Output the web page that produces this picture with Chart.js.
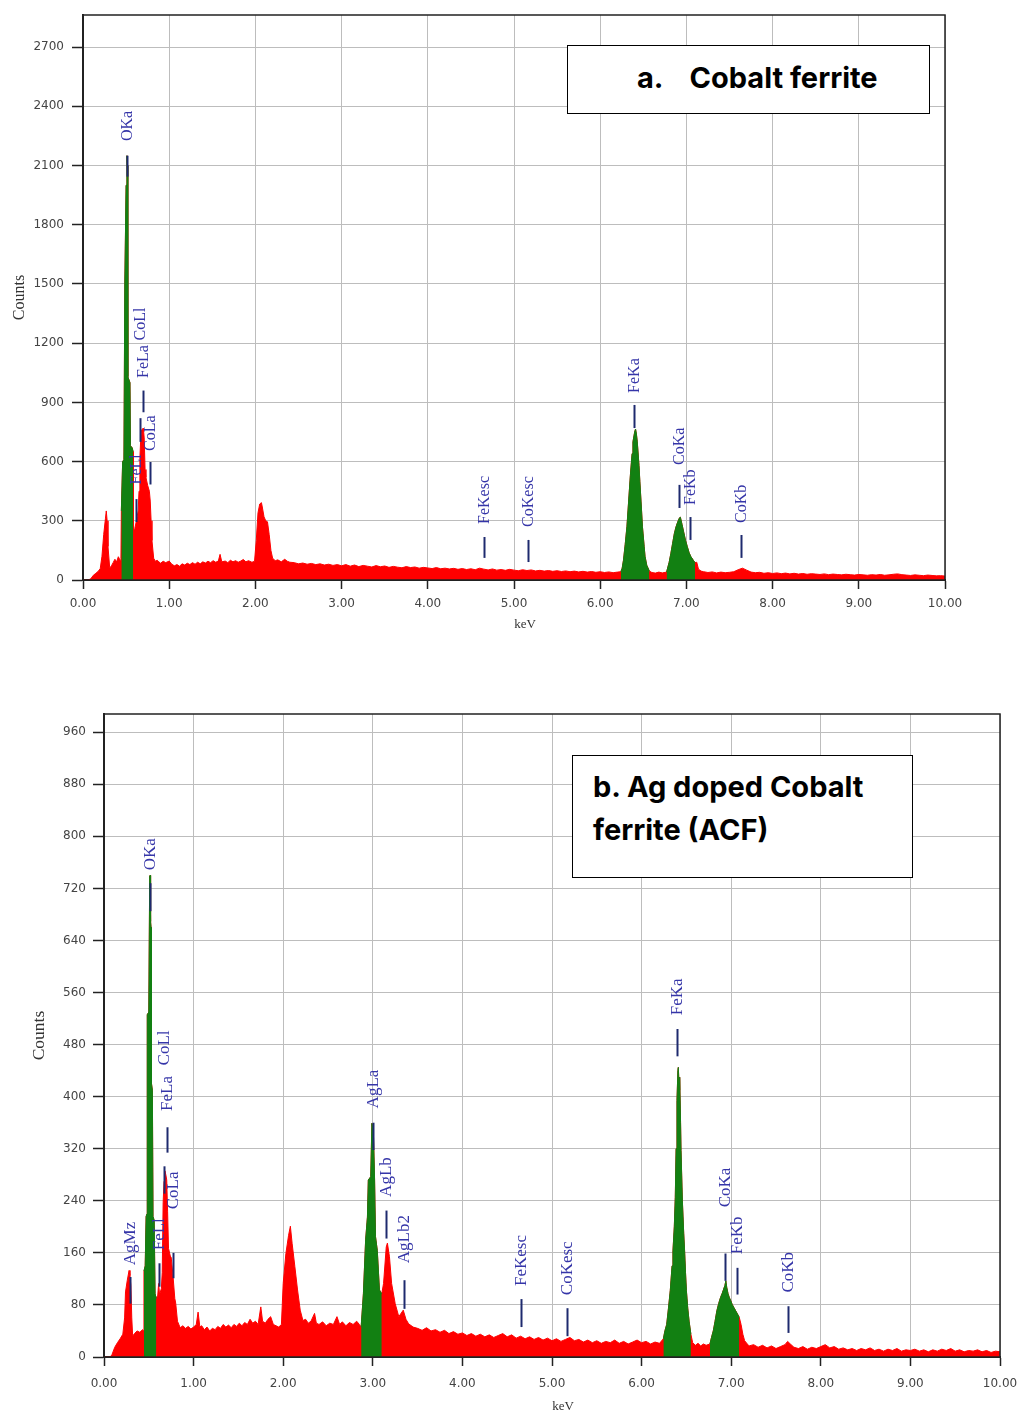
<!DOCTYPE html>
<html><head><meta charset="utf-8">
<script src="https://cdn.jsdelivr.net/npm/chart.js@4.4.1/dist/chart.umd.min.js"></script>
<style>
html,body{margin:0;padding:0;background:#fff;}
body{width:1021px;height:1416px;position:relative;overflow:hidden;}
.panel{position:absolute;left:0;}
#pa{top:0;width:1021px;height:640px;}
#pb{top:690px;width:1021px;height:726px;}
.tbox{position:absolute;background:#fff;border:1px solid #000;font-family:Inter,'Open Sans',sans-serif;font-weight:700;color:#000;box-sizing:border-box;white-space:nowrap;}
#ta{left:567px;top:45px;width:363px;height:69px;font-size:29px;line-height:64px;padding-left:69px;}
#tb{left:572px;top:755px;width:341px;height:123px;font-size:29px;line-height:43px;padding:9px 0 0 20px;}
</style></head>
<body>
<div class="panel" id="pa"><canvas id="ca" width="1021" height="640"></canvas></div>
<div class="panel" id="pb"><canvas id="cb" width="1021" height="726"></canvas></div>
<div class="tbox" id="ta"><span>a.</span><span style="margin-left:26px">Cobalt ferrite</span></div>
<div class="tbox" id="tb">b. Ag doped Cobalt<br>ferrite (ACF)</div>
<script>
// ---------- DATA ----------
const xTicks = [0,1,2,3,4,5,6,7,8,9,10];
const yTicksA = [0,300,600,900,1200,1500,1800,2100,2400,2700];
const yTicksB = [0,80,160,240,320,400,480,560,640,720,800,880,960];
const yMaxA = 2863;
const yMaxB = 988;

// [keV, counts] – Cobalt ferrite
const spectrumA = [
[0,0],[0.06,0],[0.09,6],[0.12,24],[0.15,34],[0.18,46],[0.20,58],[0.22,120],[0.24,230],[0.26,310],[0.27,350],[0.28,300],[0.29,170],[0.31,60],[0.33,72],[0.35,88],[0.37,105],[0.39,92],[0.41,118],[0.43,100],[0.44,110],
[0.445,350],[0.46,600],[0.475,610],[0.485,1500],[0.50,2000],[0.51,2150],[0.515,2100],[0.52,1030],[0.545,1000],[0.55,680],[0.57,670],[0.582,650],
[0.586,250],[0.60,260],[0.62,300],[0.64,350],[0.65,450],[0.66,620],[0.67,720],[0.68,760],[0.70,770],[0.71,720],[0.72,560],[0.73,520],[0.75,480],[0.77,450],[0.78,400],[0.79,300],[0.80,200],[0.82,110],[0.84,95],[0.86,100],
[0.88,92],[0.90,85],[0.93,95],[0.96,88],[1.00,96],[1.03,80],[1.06,72],[1.09,78],[1.12,70],[1.15,82],[1.18,76],[1.21,85],[1.24,78],[1.27,88],[1.30,80],[1.33,90],[1.36,82],[1.39,92],[1.42,86],[1.45,95],[1.48,88],[1.51,98],[1.54,90],[1.57,96],[1.59,130],[1.61,92],[1.65,96],[1.68,88],[1.71,100],[1.74,92],[1.77,98],[1.80,90],[1.83,96],[1.86,104],[1.89,92],[1.92,98],[1.96,90],[1.99,95],
[2.01,200],[2.03,340],[2.05,385],[2.07,392],[2.08,370],[2.10,320],[2.12,300],[2.14,295],[2.16,230],[2.18,150],[2.20,110],[2.23,98],[2.26,102],[2.30,92],[2.34,105],[2.37,95],[2.40,90],[2.45,88],[2.50,82],[2.55,86],[2.60,80],[2.65,84],[2.70,78],[2.75,82],[2.80,76],[2.85,80],[2.90,74],[2.95,78],
[3.00,72],[3.05,78],[3.10,70],[3.15,76],[3.20,68],[3.25,74],[3.30,70],[3.35,66],[3.40,73],[3.45,67],[3.50,71],[3.55,64],[3.60,69],[3.65,65],[3.70,62],[3.75,68],[3.80,63],[3.85,66],[3.90,60],[3.95,64],
[4.00,61],[4.05,58],[4.10,63],[4.15,57],[4.20,60],[4.25,56],[4.30,59],[4.35,54],[4.40,58],[4.45,53],[4.50,57],[4.55,52],[4.60,60],[4.65,55],[4.70,51],[4.75,56],[4.80,50],[4.85,53],[4.90,49],[4.95,54],
[5.00,50],[5.05,47],[5.10,52],[5.15,48],[5.20,51],[5.25,46],[5.30,49],[5.35,45],[5.40,48],[5.45,44],[5.50,47],[5.55,43],[5.60,46],[5.65,42],[5.70,45],[5.75,41],[5.80,44],[5.85,40],[5.90,43],[5.95,39],
[6.00,42],[6.05,38],[6.10,41],[6.15,37],[6.20,40],
[6.24,42],[6.255,60],[6.27,100],[6.29,180],[6.31,270],[6.33,400],[6.35,530],[6.37,640],[6.38,700],[6.40,750],[6.41,765],[6.42,740],[6.43,700],[6.45,580],[6.46,500],[6.48,350],[6.49,270],[6.51,170],[6.52,120],[6.54,75],[6.57,45],
[6.60,38],[6.64,35],[6.68,40],[6.72,36],
[6.77,40],[6.80,90],[6.82,135],[6.84,185],[6.86,235],[6.88,270],[6.90,295],[6.92,315],[6.93,318],[6.95,280],[6.97,240],[6.99,200],[7.01,170],[7.03,140],[7.05,120],[7.08,100],[7.10,88],
[7.12,90],[7.14,55],[7.17,45],[7.20,42],[7.25,38],[7.30,41],[7.35,36],[7.40,40],[7.45,37],[7.50,39],[7.55,42],[7.60,52],[7.65,60],[7.70,50],[7.75,40],[7.80,37],[7.85,39],[7.90,34],[7.95,37],
[8.00,33],[8.05,36],[8.10,32],[8.15,35],[8.20,31],[8.25,34],[8.30,30],[8.35,33],[8.40,29],[8.45,32],[8.50,30],[8.55,28],[8.60,31],[8.65,27],[8.70,30],[8.75,28],[8.80,26],[8.85,29],[8.90,27],[8.95,25],
[9.00,28],[9.05,26],[9.10,24],[9.15,27],[9.20,25],[9.25,28],[9.30,24],[9.35,26],[9.40,29],[9.45,31],[9.50,27],[9.55,25],[9.60,23],[9.65,26],[9.70,24],[9.75,22],[9.80,25],[9.85,23],[9.90,21],[9.95,22],[10.00,20]
];
// keV windows of the identified (green) peaks
const peakWindowsA = [[0.445,0.582],[6.24,6.57],[6.77,7.10]];

// [keV, counts] – Ag doped cobalt ferrite
const spectrumB = [
[0,0],[0.07,0],[0.09,4],[0.12,15],[0.15,22],[0.18,28],[0.21,35],[0.23,60],[0.24,100],[0.26,118],[0.28,133],[0.29,125],[0.30,110],[0.31,60],[0.32,32],[0.34,36],[0.37,40],[0.40,38],[0.43,42],[0.445,40],
[0.446,132],[0.46,140],[0.47,216],[0.48,220],[0.483,526],[0.50,530],[0.51,739],[0.515,740],[0.52,669],[0.525,660],[0.53,420],[0.54,410],[0.547,216],[0.56,210],[0.57,97],[0.584,90],
[0.59,90],[0.60,95],[0.61,113],[0.62,96],[0.64,105],[0.65,130],[0.66,237],[0.67,270],[0.68,286],[0.69,280],[0.70,272],[0.71,223],[0.72,167],[0.74,155],[0.75,153],[0.77,125],[0.79,90],[0.80,83],[0.82,55],[0.85,45],
[0.88,48],[0.91,44],[0.94,47],[0.97,43],[1.00,46],[1.03,50],[1.05,69],[1.07,46],[1.09,48],[1.12,42],[1.15,46],[1.18,40],[1.21,44],[1.24,42],[1.27,47],[1.30,44],[1.33,50],[1.36,46],[1.39,49],[1.42,45],[1.45,50],[1.48,47],[1.51,52],[1.54,48],[1.57,53],[1.60,50],[1.63,58],[1.66,52],[1.69,55],[1.72,50],[1.75,77],[1.77,55],[1.80,52],[1.83,58],[1.86,62],[1.89,50],[1.92,48],[1.95,46],[1.98,50],
[2.00,113],[2.03,159],[2.06,187],[2.08,201],[2.10,174],[2.13,139],[2.16,103],[2.19,72],[2.22,56],[2.25,58],[2.28,52],[2.31,55],[2.35,67],[2.37,52],[2.40,50],[2.44,54],[2.48,48],[2.52,52],[2.56,50],[2.60,62],[2.63,50],[2.66,54],[2.70,48],[2.74,53],[2.78,50],[2.82,55],[2.85,50],
[2.87,46],[2.895,97],[2.92,180],[2.94,215],[2.95,272],[2.977,277],[2.99,359],[3.007,344],[3.02,272],[3.03,185],[3.05,164],[3.074,103],[3.10,97],
[3.12,113],[3.15,169],[3.163,175],[3.186,154],[3.21,113],[3.25,82],[3.29,62],[3.34,72],[3.37,58],[3.40,51],
[3.45,46],[3.50,44],[3.55,41],[3.60,45],[3.65,40],[3.70,42],[3.75,38],[3.80,41],[3.85,36],[3.90,39],[3.95,35],
[4.00,37],[4.05,33],[4.10,36],[4.15,32],[4.20,35],[4.25,31],[4.30,34],[4.35,30],[4.40,33],[4.45,36],[4.50,31],[4.55,34],[4.60,29],[4.65,32],[4.70,28],[4.75,31],[4.80,27],[4.85,30],[4.90,26],[4.95,29],
[5.00,25],[5.05,28],[5.10,24],[5.15,27],[5.20,30],[5.25,25],[5.30,27],[5.35,23],[5.40,26],[5.45,22],[5.50,25],[5.55,21],[5.60,24],[5.65,22],[5.70,26],[5.75,21],[5.80,24],[5.85,20],[5.90,23],[5.95,26],
[6.00,22],[6.05,24],[6.10,20],[6.15,23],[6.20,21],
[6.243,28],[6.26,40],[6.28,50],[6.30,75],[6.32,102],[6.34,140],[6.35,163],[6.365,200],[6.376,245],[6.385,320],[6.395,394],[6.405,440],[6.41,445],[6.42,410],[6.425,430],[6.435,360],[6.44,317],[6.455,240],[6.47,190],[6.48,163],[6.49,130],[6.50,102],[6.515,75],[6.53,55],[6.55,35],
[6.57,22],[6.60,18],[6.63,21],[6.66,17],[6.69,20],[6.72,18],
[6.763,20],[6.78,30],[6.80,40],[6.82,55],[6.84,71],[6.86,82],[6.88,91],[6.90,98],[6.91,102],[6.93,110],[6.94,117],[6.95,107],[6.965,97],[6.98,91],[7.00,85],[7.01,81],[7.03,76],[7.05,71],[7.07,66],[7.09,61],
[7.11,50],[7.13,35],[7.15,25],[7.18,20],[7.20,17],[7.25,19],[7.30,15],[7.35,18],[7.40,14],[7.45,17],[7.50,13],[7.55,16],[7.60,19],[7.63,24],[7.66,20],[7.70,15],[7.75,13],[7.80,16],[7.85,12],[7.90,15],[7.95,13],
[8.00,16],[8.05,19],[8.10,14],[8.15,16],[8.20,12],[8.25,14],[8.30,11],[8.35,13],[8.40,10],[8.45,13],[8.50,11],[8.55,14],[8.60,10],[8.65,12],[8.70,9],[8.75,12],[8.80,10],[8.85,13],[8.90,9],[8.95,11],
[9.00,10],[9.05,12],[9.10,9],[9.15,11],[9.20,8],[9.25,11],[9.30,9],[9.35,12],[9.40,10],[9.45,13],[9.50,9],[9.55,11],[9.60,8],[9.65,10],[9.70,9],[9.75,11],[9.80,8],[9.85,10],[9.90,7],[9.95,9],[10.00,8]
];
const peakWindowsB = [[0.446,0.584],[2.87,3.10],[6.243,6.55],[6.763,7.09]];

// peak identification marks
const markNamesA  = ['OKa','CoLl','FeLa','FeLl','CoLa','FeKesc','CoKesc','FeKa','CoKa','FeKb','CoKb'];
const markKeVA    = [0.515,0.665,0.70,0.61,0.775,4.652,5.165,6.39,6.915,7.04,7.63];
const markLowA    = [2044,700,850,294,484,112,91,770,365,203,112];
const markHighA   = [2150,820,960,410,598,218,203,887,482,319,228];
const markTextA   = [2224,1214,1024,484,654,284,269,948,583,380,289];

const markNamesB  = ['AgMz','OKa','CoLl','FeLa','FeLl','CoLa','AgLa','AgLb','AgLb2','FeKesc','CoKesc','FeKa','CoKa','FeKb','CoKb'];
const markKeVB    = [0.29,0.515,0.675,0.70,0.615,0.77,3.00,3.15,3.35,4.655,5.17,6.40,6.93,7.07,7.63];
const markLowB    = [82,685,251,314,108,121,318,182,74,46,32,462,117,96,37];
const markHighB   = [123,728,293,353,144,160,360,225,118,89,75,504,159,137,78];
const markTextB   = [141,748,448,378,164,227,382,246,144,109,95,525,230,158,99];

// ---------- RENDER ----------
const RED = '#ff0000', GREEN = '#128012';

const framePlugin = {
  id: 'frame',
  afterDatasetsDraw(chart) {
    const {ctx, chartArea: a} = chart;
    ctx.save();
    ctx.strokeStyle = '#222'; ctx.lineWidth = 1.5;
    ctx.strokeRect(a.left, a.top, a.right - a.left, a.bottom - a.top);
    ctx.restore();
  }
};

const marksPlugin = {
  id: 'peakMarks',
  afterDatasetsDraw(chart) {
    const o = chart.options.plugins.peakMarks;
    if (!o) return;
    const {ctx} = chart, xs = chart.scales.x, ys = chart.scales.y;
    ctx.save();
    o.names.forEach((n, i) => {
      const x = Math.round(xs.getPixelForValue(o.kev[i])) + 0.5;
      ctx.strokeStyle = '#1e2a6e'; ctx.lineWidth = 2;
      ctx.beginPath();
      ctx.moveTo(x, ys.getPixelForValue(o.low[i]));
      ctx.lineTo(x, ys.getPixelForValue(o.high[i]));
      ctx.stroke();
      ctx.save();
      ctx.translate(x, ys.getPixelForValue(o.text[i]));
      ctx.rotate(-Math.PI / 2);
      ctx.font = o.fontSize + 'px "Liberation Serif", "Times New Roman", serif';
      ctx.fillStyle = '#3535a8';
      ctx.textAlign = 'left'; ctx.textBaseline = 'middle';
      ctx.fillText(n, 0, 0);
      ctx.restore();
    });
    ctx.restore();
  }
};

const xTitlePlugin = {
  id: 'xCaption',
  afterDraw(chart) {
    const o = chart.options.plugins.xCaption;
    const a = chart.chartArea, {ctx} = chart;
    ctx.save();
    ctx.font = '13px "Liberation Serif", serif';
    ctx.fillStyle = '#333'; ctx.textAlign = 'center'; ctx.textBaseline = 'middle';
    ctx.fillText(o.text, (a.left + a.right) / 2 + o.shift, o.y);
    ctx.restore();
  }
};

function makeChart(id, spectrum, windows, yMax, yTicks, marks, d) {
  const pts = spectrum.map(p => ({x: p[0], y: p[1]}));
  const datasets = windows.map(w => ({
    data: pts.filter(p => p.x >= w[0] - 1e-9 && p.x <= w[1] + 1e-9),
    borderColor: GREEN, backgroundColor: GREEN, borderWidth: 1,
    fill: 'origin', pointRadius: 0, tension: 0, order: 0
  }));
  datasets.push({
    data: pts, borderColor: RED, backgroundColor: RED, borderWidth: 1,
    fill: 'origin', pointRadius: 0, tension: 0, order: 1
  });
  return new Chart(document.getElementById(id), {
    type: 'line',
    data: {datasets},
    plugins: [framePlugin, marksPlugin, xTitlePlugin],
    options: {
      responsive: false, animation: false, events: [],
      layout: {padding: {left: 0, right: d.padRight, top: d.padTop, bottom: 0}},
      plugins: {
        legend: {display: false}, tooltip: {enabled: false},
        peakMarks: marks,
        xCaption: {text: 'keV', shift: d.kevShift, y: d.kevY}
      },
      scales: {
        x: {
          type: 'linear', min: 0, max: 10,
          afterBuildTicks: s => { s.ticks = xTicks.map(v => ({value: v})); },
          afterFit: s => { s.height = d.xHeight; s.paddingLeft = 0; s.paddingRight = 0; },
          ticks: {callback: v => Number(v).toFixed(2), color: '#444', maxRotation: 0,
                  font: {family: '"DejaVu Sans", Verdana, sans-serif', size: 12}, padding: d.xPad},
          grid: {color: '#bdbdbd', lineWidth: 1, tickLength: 9, tickColor: '#222', tickWidth: 1.5},
          border: {display: true, color: '#222', width: 2}
        },
        y: {
          type: 'linear', min: 0, max: yMax,
          afterBuildTicks: s => { s.ticks = yTicks.map(v => ({value: v})); },
          afterFit: s => { s.width = d.yWidth; s.paddingTop = 0; s.paddingBottom = 0; },
          ticks: {callback: v => String(v), color: '#444',
                  font: {family: '"DejaVu Sans", Verdana, sans-serif', size: 12}, padding: d.yPad},
          grid: {color: '#bdbdbd', lineWidth: 1, tickLength: 11, tickColor: '#222', tickWidth: 1.5},
          border: {display: true, color: '#222', width: 2},
          title: {display: true, text: 'Counts', color: '#333',
                  font: {family: '"Liberation Serif", serif', size: d.countsSize}, padding: {top: d.countsPad, bottom: 0}}
        }
      }
    }
  });
}

makeChart('ca', spectrumA, peakWindowsA, yMaxA, yTicksA,
  {names: markNamesA, kev: markKeVA, low: markLowA, high: markHighA, text: markTextA, fontSize: 16},
  {padRight: 76, padTop: 15, xHeight: 60, yWidth: 83, xPad: 8, yPad: 8, countsSize: 16, countsPad: 10, kevShift: 11, kevY: 625});

makeChart('cb', spectrumB, peakWindowsB, yMaxB, yTicksB,
  {names: markNamesB, kev: markKeVB, low: markLowB, high: markHighB, text: markTextB, fontSize: 17},
  {padRight: 21, padTop: 24, xHeight: 59, yWidth: 104, xPad: 11, yPad: 7, countsSize: 17.5, countsPad: 29, kevShift: 11, kevY: 717});
</script>
</body></html>
